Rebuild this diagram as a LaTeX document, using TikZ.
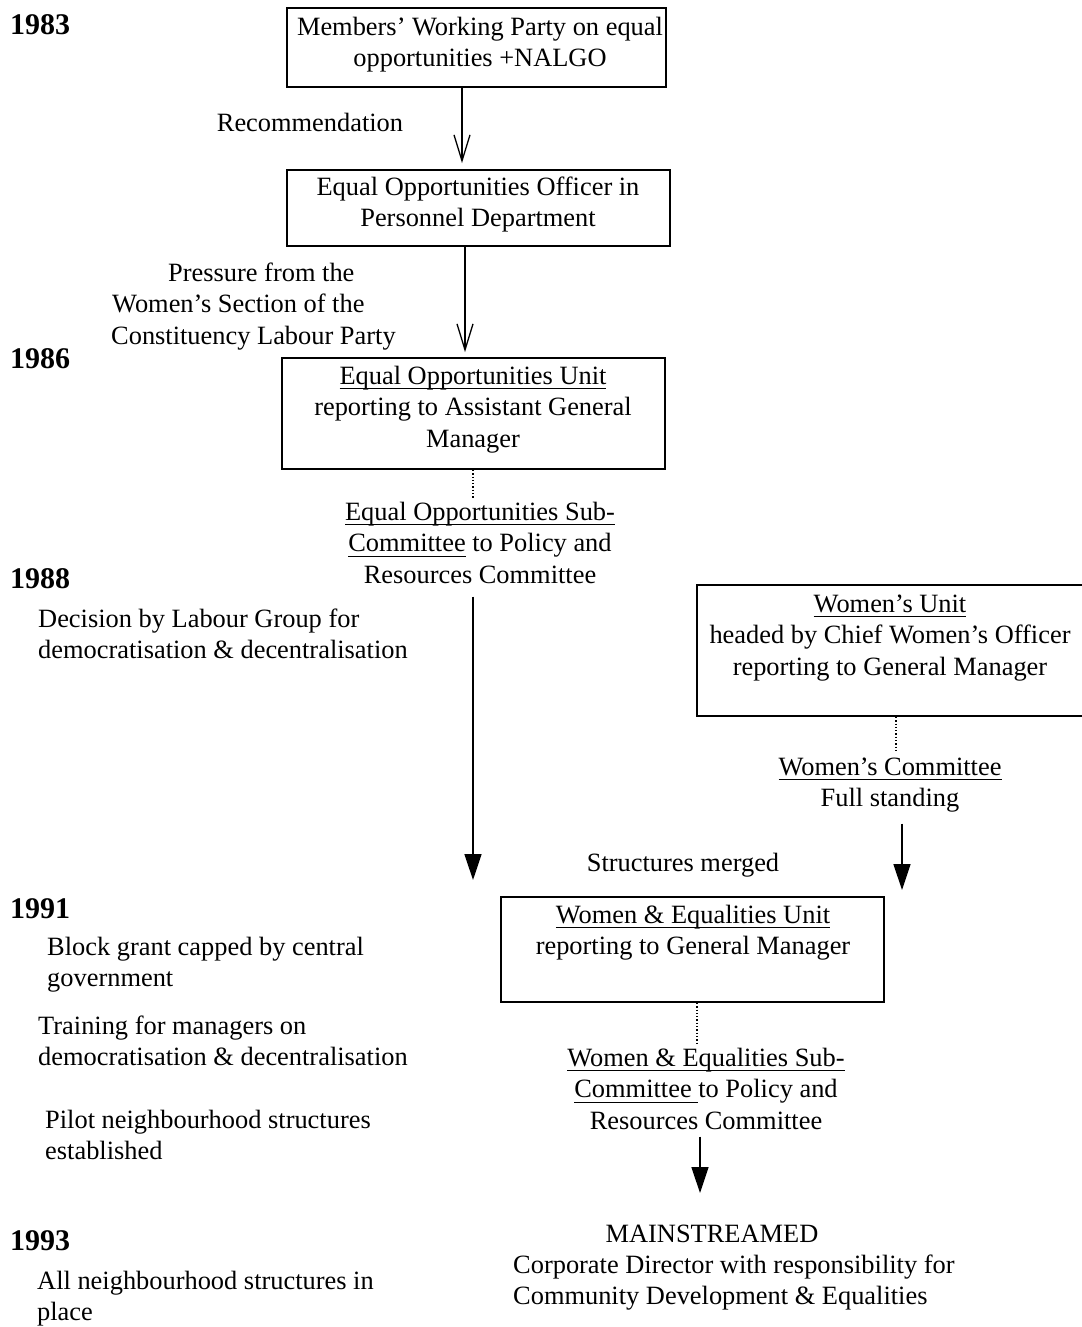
\documentclass[tikz,border=0pt]{standalone}
\usepackage{fontspec}
\setmainfont{Liberation Serif}
\usetikzlibrary{arrows.meta}

% underline that runs through the descenders
\newcommand\ul[1]{\setbox0\hbox{#1}\rlap{\rule[-5pt]{\wd0}{1.2pt}}\box0\relax}
\newcommand\bodyfont{\fontsize{26.4}{31.5}\selectfont}
\newcommand\yearfont{\fontsize{30}{34}\selectfont\bfseries}

\begin{document}
\begin{tikzpicture}[x=1pt,y=-1pt,
  box/.style={draw, line width=1.8pt, inner sep=0pt},
  txt/.style={font=\bodyfont, inner sep=0pt, align=center, anchor=north},
  ltxt/.style={font=\bodyfont, inner sep=0pt, align=left, anchor=north west},
  year/.style={font=\yearfont, inner sep=0pt, anchor=base west},
  openarrow/.style={-{Straight Barb[length=26pt,width=16pt,line width=1.3pt]}, line width=1.5pt},
  fillarrow/.style={-{Triangle[length=26pt,width=17pt]}, line width=1.5pt},
  link/.style={dotted, line width=1.3pt}]

\useasboundingbox (0,0) rectangle (1081,1327);

% years
\node[year] (y83) at (10,35)   {1983};
\node[year] (y86) at (10,368)  {1986};
\node[year] (y88) at (10,588)  {1988};
\node[year] (y91) at (10,918)  {1991};
\node[year] (y93) at (10,1250) {1993};

% boxes
\node[box, minimum width=379pt, minimum height=79pt]  (b1) at (476.5,47.5) {};
\node[box, minimum width=383pt, minimum height=76pt]  (b2) at (478.5,208) {};
\node[box, minimum width=383pt, minimum height=111pt] (b3) at (473.5,413.5) {};
\node[box, minimum width=387pt, minimum height=131pt] (b4) at (890.5,650.5) {};
\node[box, minimum width=383pt, minimum height=105pt] (b5) at (692.5,949.5) {};

% box texts
\node[txt] (t1) at (480,13)  {\strut Members’ Working Party on equal\\ opportunities +NALGO};
\node[txt] (t2) at (478,173) {\strut Equal Opportunities Officer in\\ Personnel Department};
\node[txt] (t3) at (473,362) {\strut\ul{Equal Opportunities Unit}\\ reporting to Assistant General\\ Manager};
\node[txt] (t4) at (890,590) {\strut\ul{Women’s Unit}\\ headed by Chief Women’s Officer\\ reporting to General Manager};
\node[txt] (t5) at (693,901) {\strut\ul{Women \& Equalities Unit}\\ reporting to General Manager};

% committees and labels
\node[txt] (rec) at (310,109) {\strut Recommendation};
\node[ltxt] (pr) at (111,259) {\strut\hspace*{57pt}Pressure from the\\ \hspace*{1pt}Women’s Section of the\\ Constituency Labour Party};
\node[txt] (eos) at (480,498) {\strut\ul{Equal Opportunities Sub-}\\ \ul{Committee} to Policy and\\ Resources Committee};
\node[txt] (wc)  at (890,753) {\strut\ul{Women’s Committee}\\ Full standing};
\node[txt] (sm)  at (683,849) {\strut Structures merged};
\node[txt] (wes) at (706,1044) {\strut\ul{Women \& Equalities Sub-}\\ \ul{Committee\ }to Policy and\\ Resources Committee};
\node[txt] (ms)  at (712,1220) {\strut MAINSTREAMED};
\node[ltxt] (cd) at (513,1251) {\strut Corporate Director with responsibility for\\ Community Development \& Equalities};

% events in the left column
\node[ltxt] (dec) at (38,605)  {\strut Decision by Labour Group for\\ democratisation \& decentralisation};
\node[ltxt] (bg)  at (47,933)  {\strut Block grant capped by central\\ government};
\node[ltxt] (tr)  at (38,1012) {\strut Training for managers on\\ democratisation \& decentralisation};
\node[ltxt] (pi)  at (45,1106) {\strut Pilot neighbourhood structures\\ established};
\node[ltxt] (an)  at (37,1267) {\strut All neighbourhood structures in\\ place};

% connector columns
\coordinate (c1) at (462,0);
\coordinate (c2) at (465,0);
\coordinate (c3) at (473,0);
\coordinate (c4) at (902,0);
\coordinate (c5) at (700,0);
\coordinate (d2) at (896,0);
\coordinate (d3) at (697,0);
\coordinate (e3) at (473,880);
\coordinate (e4) at (902,890);

\draw[openarrow, shorten >=6pt] (b1.south -| c1) -- (b2.north -| c1);
\draw[openarrow, shorten >=5pt] (b2.south -| c2) -- (b3.north -| c2);
\draw[link] (b3.south -| c3) -- (eos.north -| c3);
\draw[fillarrow, shorten <=13pt] (eos.south -| c3) -- (e3);
\draw[link] (b4.south -| d2) -- (wc.north -| d2);
\draw[fillarrow, shorten <=11pt] (wc.south -| c4) -- (e4);
\draw[link] (b5.south -| d3) -- (wes.north -| d3);
\draw[fillarrow, shorten <=7pt, shorten >=27pt] (wes.south -| c5) -- (ms.north -| c5);

\end{tikzpicture}
\end{document}
